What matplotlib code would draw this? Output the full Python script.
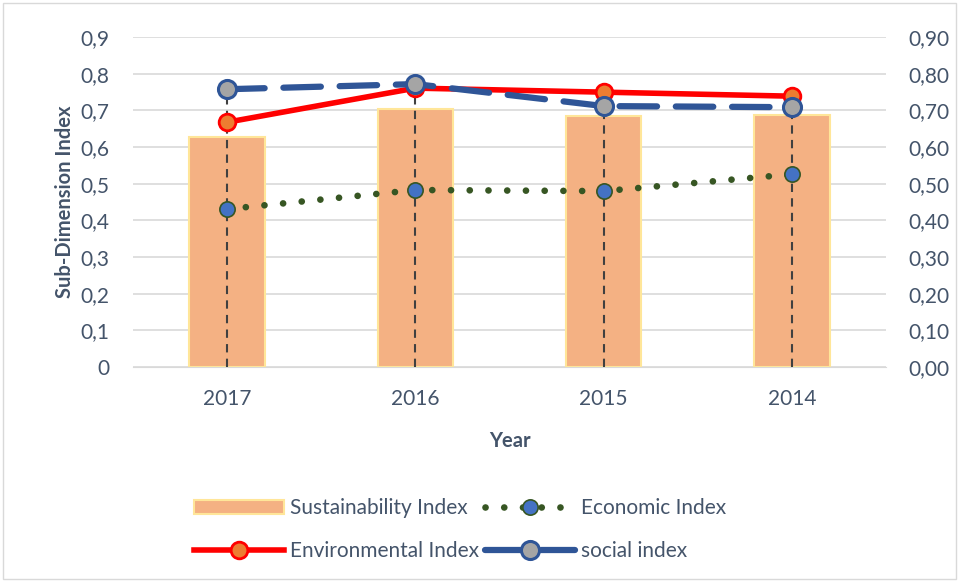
import matplotlib.pyplot as plt
import numpy as np

years = ["2017", "2016", "2015", "2014"]
sustainability = [0.627, 0.704, 0.684, 0.687]
economic = [0.431, 0.483, 0.480, 0.526]
environmental = [0.668, 0.761, 0.750, 0.739]
social = [0.758, 0.772, 0.712, 0.709]

plt.rcParams['font.family'] = ['Lato', 'DejaVu Sans']
txt = "#44546A"

fig = plt.figure(figsize=(9.59, 5.81), dpi=100)
ax = fig.add_axes([0.1387, 0.3683, 0.7853, 0.5677])
ax2 = ax.twinx()

x = np.arange(len(years))

bars = ax.bar(x, sustainability, width=0.4, color="#F4B183", edgecolor="#FFE699", linewidth=1.5,
              label="Sustainability Index", zorder=2)

# drop lines from the highest point of each year down to the axis
tops = np.maximum.reduce([economic, environmental, social, sustainability])
for xi, t in zip(x, tops):
    ax.plot([xi, xi], [0, t], color="#404040", lw=1.5, ls=(0, (4, 3)), zorder=3)

eco, = ax.plot(x, economic, color="#375623", lw=4.8, ls=(0, (0.01, 2.8)), dash_capstyle="round",
               marker="o", ms=11, mfc="#4472C4", mec="#375623", mew=1.2,
               label="Economic Index", zorder=4)
env, = ax.plot(x, environmental, color="#FF0000", lw=4, marker="o", ms=12,
               mfc="#ED7D31", mec="#FF0000", mew=2, label="Environmental Index", zorder=5)
soc, = ax.plot(x, social, color="#2F5597", lw=4.5, ls=(0, (6, 3)), dash_capstyle="round",
               marker="o", ms=13, mfc="#A5A5A5", mec="#2F5597", mew=2.2,
               label="social index", zorder=6)

ax.set_xlim(-0.5, len(years) - 0.5)
ax.set_ylim(0, 0.9)
ax2.set_ylim(0, 0.9)
ticks = np.arange(0, 0.91, 0.1)
ax.set_yticks(ticks)
ax.set_yticklabels(["0" if t == 0 else f"{t:.1f}".replace(".", ",") for t in ticks])
ax2.set_yticks(ticks)
ax2.set_yticklabels([f"{t:.2f}".replace(".", ",") for t in ticks])
ax.set_xticks(x)
ax.set_xticklabels(years)

for a in (ax, ax2):
    for s in a.spines.values():
        s.set_visible(False)
    a.tick_params(length=0, labelsize=15, colors=txt)
ax.tick_params(axis="y", pad=17)
ax2.tick_params(axis="y", pad=16)
ax.spines["bottom"].set_visible(True)
ax.spines["bottom"].set_color("#D9D9D9")
ax.tick_params(axis="x", pad=16)

ax.grid(axis="y", color="#D9D9D9", lw=1.2, zorder=0)
ax.set_axisbelow(True)

ax.set_ylabel("Sub-Dimension Index", fontsize=14.5, fontweight="bold", color=txt, labelpad=4)
ax.set_xlabel("Year", fontsize=14.5, fontweight="bold", color=txt, labelpad=16)

# ncol=2 fills column by column
fig.legend([bars, env, eco, soc],
           ["Sustainability Index", "Environmental Index", "Economic Index", "social index"],
           loc="lower center", bbox_to_anchor=(0.48, 0.002), ncol=2, frameon=False,
           fontsize=15, labelcolor=txt, handlelength=4.3, columnspacing=0.3,
           handletextpad=0.3, labelspacing=1.1)

fig.patches.append(plt.Rectangle((0.003, 0.004), 0.994, 0.99, transform=fig.transFigure,
                                 fill=False, edgecolor="#D9D9D9", lw=1))

fig.savefig("out.png", dpi=100)
